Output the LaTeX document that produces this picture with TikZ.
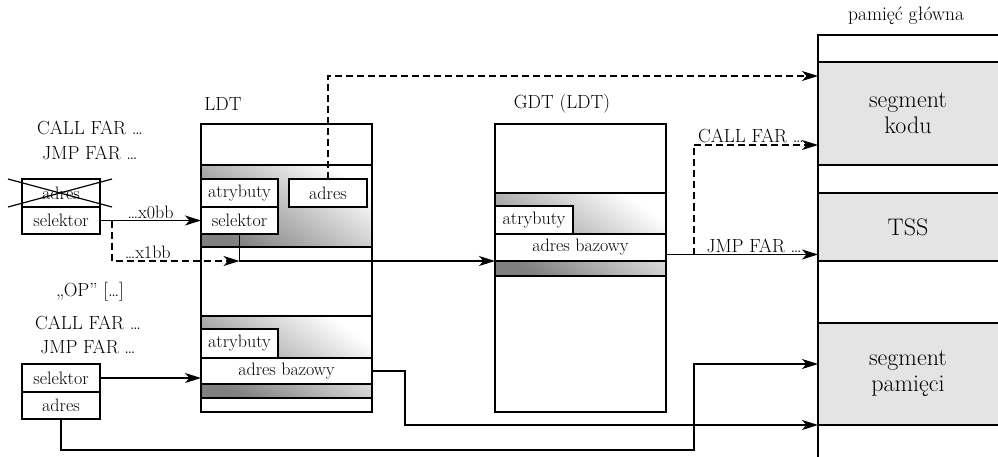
\documentclass[tikz,border=0pt]{standalone}
\usepackage{tikz}
\usetikzlibrary{positioning, arrows.meta}
\definecolor{segGray}{HTML}{E4E4E4}
\definecolor{bandDark}{HTML}{808080}

\begin{document}
\begin{tikzpicture}[
  x=1pt, y=-1pt,
  font=\fontsize{19}{22}\selectfont,
  cell/.style={draw, fill=white, line width=1.2pt, anchor=north west, inner sep=0pt, outer sep=0pt, font=\fontsize{18}{20}\selectfont},
  tbl/.style={draw, line width=1.2pt, anchor=north west, inner sep=0pt, outer sep=0pt, minimum width=171pt, minimum height=288pt},
  band/.style={draw, line width=1.2pt, anchor=north west, inner sep=0pt, outer sep=0pt, top color=white, bottom color=bandDark, shading angle=-35, minimum width=171pt},
  seg/.style={draw, fill=segGray, line width=1.2pt, anchor=north west, inner sep=0pt, outer sep=0pt, minimum width=190pt},
  segtext/.style={align=center, font=\fontsize{24}{26}\selectfont},
  lbl/.style={inner sep=1.5pt},
  arr/.style={-{Stealth[length=16pt, width=10pt, inset=4.5pt]}, line width=1.2pt},
  dasharr/.style={arr, dash pattern=on 7pt off 4pt}
]
\useasboundingbox (0,0) rectangle (998,457);

% ---------- MAIN MEMORY ----------
\node[anchor=north west, minimum width=190pt, minimum height=422pt, inner sep=0pt, outer sep=0pt] (mem) at (818,35) {};
\draw[line width=1.2pt] (mem.south west) -- (mem.north west) -- (mem.north east);
\node[lbl, font=\fontsize{19.5}{21}\selectfont] (memlbl) at (906,16) {pamięć główna};
\node[seg, minimum height=103pt, label={[segtext, xshift=-5pt]center:{segment\\kodu}}] (kodu) at (818,62) {};
\node[seg, minimum height=68pt, label={[segtext, xshift=-5pt]center:TSS}] (tss) at (818,193) {};
\node[seg, minimum height=102pt, label={[segtext, xshift=-5pt]center:{segment\\pamięci}}] (pam) at (818,323) {};

% ---------- LDT ----------
\node[lbl] (ldtlbl) at (223,104) {LDT};
\node[tbl] (ldt) at (201,124) {};
\node[band, minimum height=82pt] (band1) at (201,165) {};
\node[cell, minimum width=77pt, minimum height=28pt] (atr1) at (201,179) {atrybuty};
\node[cell, minimum width=77pt, minimum height=27pt] (sel1) at (201,207) {selektor};
\node[cell, minimum width=78pt, minimum height=28pt] (adr1) at (289,179) {adres};
\node[band, minimum height=82pt] (band2) at (201,316) {};
\node[cell, minimum width=77pt, minimum height=29pt] (atr2) at (201,329) {atrybuty};
\node[cell, minimum width=171pt, minimum height=26pt] (base1) at (201,358) {adres bazowy};

% ---------- GDT ----------
\node[lbl] (gdtlbl) at (562,104) {GDT (LDT)};
\node[tbl] (gdt) at (495,124) {};
\node[band, minimum height=83pt] (band3) at (495,193) {};
\node[cell, minimum width=78pt, minimum height=28pt] (atr3) at (495,206) {atrybuty};
\node[cell, minimum width=171pt, minimum height=27pt] (base2) at (495,234) {adres bazowy};

% ---------- FAR POINTER (TOP) ----------
\node[lbl] (call1) at (90,128) {CALL FAR \dots};
\node[lbl] (jmp1) at (90,153) {JMP FAR \dots};
\node[cell, minimum width=78pt, minimum height=28pt] (adr0) at (22,179) {adres};
\node[cell, minimum width=78pt, minimum height=27pt] (sel0) at (22,207) {selektor};
\draw[line width=1.2pt] ([xshift=-14pt]adr0.north west) -- ([xshift=12pt]adr0.south east);
\draw[line width=1.2pt] ([xshift=-14pt]adr0.south west) -- ([xshift=12pt]adr0.north east);

\draw[arr] (sel0.east) -- node[lbl, above, font=\fontsize{18}{20}\selectfont] {\dots x0bb} (sel0.east -| ldt.west);
\draw[dasharr] ([xshift=12pt]sel0.east) |- node[lbl, pos=0.64, above, font=\fontsize{18}{20}\selectfont] {\dots x1bb} (sel1.south |- base2.south west);
\draw[arr] (sel1.south) |- (base2.south west);
\draw[dasharr] (adr1.north) |- ([yshift=-14pt]kodu.north west);

\coordinate (jout) at ([yshift=-7pt]base2.east);
\draw[arr] (jout) -- coordinate[pos=0.184] (fork) node[lbl, pos=0.58, above] {JMP FAR \dots} (jout -| tss.west);
\draw[dasharr] (fork) |- node[lbl, pos=0.73, above] {CALL FAR \dots} ([yshift=20pt]kodu.south west);

% ---------- FAR POINTER (BOTTOM) ----------
\node[lbl] (op) at (90,292) {„OP” [\dots]};
\node[lbl] (call2) at (88,323) {CALL FAR \dots};
\node[lbl] (jmp2) at (88,347) {JMP FAR \dots};
\node[cell, minimum width=78pt, minimum height=28pt] (sel2) at (22,364) {selektor};
\node[cell, minimum width=78pt, minimum height=27pt] (adr2) at (22,392) {adres};

\draw[arr] (sel2.east) -- (sel2.east -| ldt.west);
\draw[arr] (base1.east) -- ++(33,0) |- (pam.south west);
\coordinate (pin) at ([yshift=10pt]pam.west);
\draw[arr] (adr2.south) -- ++(0,31) -| ([xshift=-124pt]pin) -- (pin);

\end{tikzpicture}
\end{document}
